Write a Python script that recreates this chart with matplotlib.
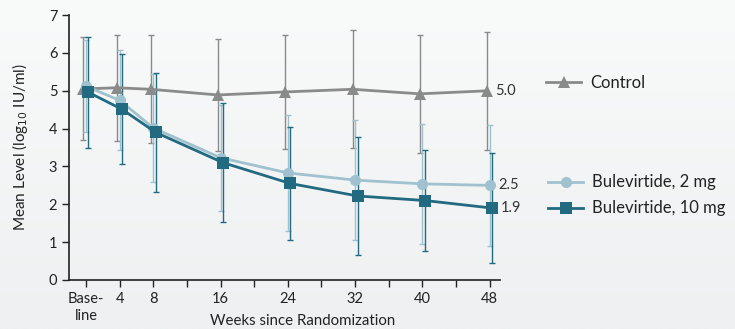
import numpy as np
import matplotlib
matplotlib.use("Agg")
import matplotlib.pyplot as plt

plt.rcParams["font.family"] = ["Lato", "DejaVu Sans"]

# weeks since randomization (0 = baseline)
weeks = [0, 4, 8, 16, 24, 32, 40, 48]
tick_weeks = [0, 4, 8, 12, 16, 20, 24, 28, 32, 36, 40, 44, 48]
tick_labels = ["Base-\nline", "4", "8", "", "16", "", "24", "", "32", "", "40", "", "48"]

# mean HDV RNA level (log10 IU/ml) and standard deviation
control_mean = [5.05, 5.08, 5.04, 4.89, 4.97, 5.04, 4.92, 5.0]
control_sd = [1.36, 1.40, 1.43, 1.48, 1.51, 1.56, 1.56, 1.56]
bul2_mean = [5.12, 4.75, 4.02, 3.23, 2.83, 2.64, 2.54, 2.5]
bul2_sd = [1.22, 1.32, 1.42, 1.40, 1.54, 1.58, 1.59, 1.60]
bul10_mean = [4.96, 4.51, 3.90, 3.10, 2.55, 2.22, 2.10, 1.9]
bul10_sd = [1.46, 1.45, 1.57, 1.58, 1.50, 1.57, 1.33, 1.46]

series = [
    ("Control", control_mean, control_sd, "#8a8a8a", "^", -0.3),
    ("Bulevirtide, 2 mg", bul2_mean, bul2_sd, "#a0c2ce", "o", 0.0),
    ("Bulevirtide, 10 mg", bul10_mean, bul10_sd, "#226a80", "s", 0.3),
]

fig = plt.figure(figsize=(7.35, 3.29), dpi=100)
fig.patch.set_facecolor("#f4f5f6")

# soft vertical background shading
bg = fig.add_axes([0, 0, 1, 1], zorder=-1)
grad = np.linspace(0, 1, 256).reshape(-1, 1)
bg.imshow(grad, aspect="auto", cmap=matplotlib.colors.LinearSegmentedColormap.from_list(
    "bg", ["#f9fafa", "#eef0f1"]), extent=[0, 1, 0, 1])
bg.set_axis_off()

ax = fig.add_axes([0.094, 0.149, 0.586, 0.805])
ax.set_facecolor("none")

handles = {}
for name, mean, sd, color, marker, dx in series:
    x = np.array(weeks) + dx
    ax.errorbar(x, mean, yerr=sd, fmt="none", ecolor=color, elinewidth=1.0,
                capsize=2.2, capthick=1.0, zorder=2)
    (ln,) = ax.plot(x, mean, color=color, lw=2.0, marker=marker, ms=8,
                    markeredgewidth=0, zorder=3)
    handles[name] = ln
    ax.annotate(f"{mean[-1]:.1f}", (x[-1], mean[-1]), xytext=(6, 0),
                textcoords="offset points", va="center", ha="left",
                fontsize=10.5, color="#333333")

ax.set_xlim(-2.0, 49.2)
ax.set_ylim(0, 7)
ax.set_yticks(range(0, 8))
ax.set_xticks(tick_weeks)
ax.set_xticklabels(tick_labels, fontsize=10.5, linespacing=1.25)
ax.tick_params(axis="y", labelsize=10.5, length=5, width=1, colors="#222222")
ax.tick_params(axis="x", length=5, width=1, colors="#222222")
for s in ("top", "right"):
    ax.spines[s].set_visible(False)
for s in ("left", "bottom"):
    ax.spines[s].set_color("#222222")
    ax.spines[s].set_linewidth(1.2)

ax.set_ylabel("Mean Level (log$_{10}$ IU/ml)", fontsize=11, color="#222222")
ax.yaxis.set_label_coords(-0.09, 0.5)
ax.set_xlabel("Weeks since Randomization", fontsize=10.8, color="#222222")
ax.xaxis.set_label_coords(0.543, -0.13)

leg_kw = dict(frameon=False, fontsize=12, handlelength=2.1, handletextpad=0.55,
              borderaxespad=0, borderpad=0, labelcolor="#222222")
fig.legend([handles["Control"]], ["Control"], loc="center left",
           bbox_to_anchor=(0.743, 0.748), **leg_kw)
fig.legend([handles["Bulevirtide, 2 mg"], handles["Bulevirtide, 10 mg"]],
           ["Bulevirtide, 2 mg", "Bulevirtide, 10 mg"], loc="center left",
           bbox_to_anchor=(0.746, 0.406), labelspacing=0.6, **leg_kw)

fig.savefig("out.png", dpi=100, facecolor=fig.get_facecolor())
